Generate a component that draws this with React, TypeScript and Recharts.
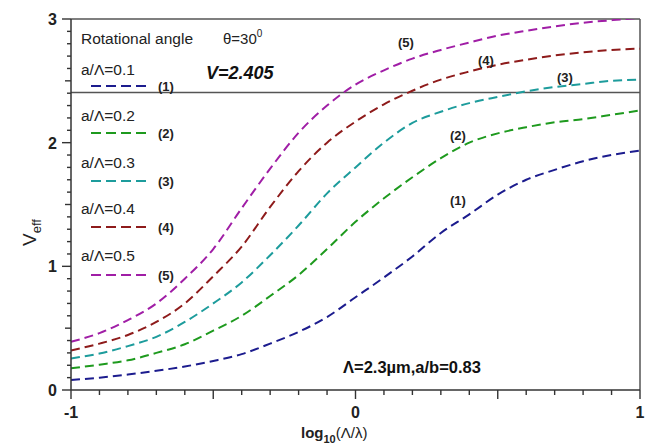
import React from 'react';
import { LineChart, Line, XAxis, YAxis, ReferenceLine } from 'recharts';

const xValues = [-1, -0.9, -0.8, -0.7, -0.6, -0.5, -0.4, -0.3, -0.2, -0.1, 0, 0.1, 0.2, 0.3, 0.4, 0.5, 0.6, 0.7, 0.8, 0.9, 1];
const veff1 = [0.08, 0.1, 0.125, 0.155, 0.19, 0.235, 0.29, 0.375, 0.47, 0.59, 0.75, 0.91, 1.08, 1.27, 1.42, 1.58, 1.7, 1.78, 1.85, 1.9, 1.935];
const veff2 = [0.175, 0.205, 0.24, 0.3, 0.37, 0.48, 0.6, 0.76, 0.93, 1.14, 1.36, 1.55, 1.72, 1.875, 2.0, 2.075, 2.125, 2.165, 2.19, 2.225, 2.26];
const veff3 = [0.255, 0.295, 0.355, 0.43, 0.55, 0.7, 0.87, 1.09, 1.33, 1.59, 1.8, 2.0, 2.16, 2.25, 2.32, 2.37, 2.415, 2.45, 2.475, 2.5, 2.51];
const veff4 = [0.32, 0.375, 0.445, 0.55, 0.7, 0.92, 1.16, 1.48, 1.77, 2.0, 2.17, 2.31, 2.42, 2.51, 2.575, 2.63, 2.67, 2.705, 2.73, 2.75, 2.76];
const veff5 = [0.39, 0.46, 0.565, 0.7, 0.9, 1.14, 1.47, 1.79, 2.08, 2.3, 2.47, 2.585, 2.68, 2.75, 2.81, 2.865, 2.905, 2.94, 2.97, 2.99, 3.01];

const seriesNames = ['(1)', '(2)', '(3)', '(4)', '(5)'];
const legendLabels = ['a/Λ=0.1', 'a/Λ=0.2', 'a/Λ=0.3', 'a/Λ=0.4', 'a/Λ=0.5'];
const colors = ['#1c1c8e', '#1e9a1e', '#1d9c9c', '#8e1b1b', '#a01ea6'];

const xTicks = [-1, -0.9, -0.8, -0.7, -0.6, -0.5, -0.4, -0.3, -0.2, -0.1, 0, 0.1, 0.2, 0.3, 0.4, 0.5, 0.6, 0.7, 0.8, 0.9, 1];
const yTicks = [0, 0.1, 0.2, 0.3, 0.4, 0.5, 0.6, 0.7, 0.8, 0.9, 1, 1.1, 1.2, 1.3, 1.4, 1.5, 1.6, 1.7, 1.8, 1.9, 2, 2.1, 2.2, 2.3, 2.4, 2.5, 2.6, 2.7, 2.8, 2.9, 3];
const cutoffV = 2.405;

const data = xValues.map((x, i) => ({
  x,
  s1: veff1[i],
  s2: veff2[i],
  s3: veff3[i],
  s4: veff4[i],
  s5: veff5[i],
}));

const FONT = '"Liberation Sans", Arial, sans-serif';
const AXIS = '#333';

const isInt = (v: number) => Math.abs(v - Math.round(v)) < 1e-6;
const isHalf = (v: number) => Math.abs(v * 2 - Math.round(v * 2)) < 1e-6;

const XTick = (props: any) => {
  const { x, y, payload } = props;
  const v = payload.value as number;
  const len = isHalf(v) ? 9 : 5;
  return (
    <g>
      <line x1={x} x2={x} y1={y} y2={y + len} stroke={AXIS} strokeWidth={1.4} />
      {isInt(v) && (
        <text x={x} y={y + 28} textAnchor="middle" fontFamily={FONT} fontWeight="bold" fontSize={16} fill="#222">
          {String(Math.round(v))}
        </text>
      )}
    </g>
  );
};

const YTick = (props: any) => {
  const { x, y, payload } = props;
  const v = payload.value as number;
  const len = isInt(v) ? 9 : isHalf(v) ? 6 : 4;
  return (
    <g>
      <line x1={x - len} x2={x} y1={y} y2={y} stroke={AXIS} strokeWidth={1.4} />
      {isInt(v) && (
        <text x={x - 14} y={y + 6} textAnchor="end" fontFamily={FONT} fontWeight="bold" fontSize={16} fill="#222">
          {String(Math.round(v))}
        </text>
      )}
    </g>
  );
};

const legendRows = [
  { labelY: 75, lineY: 86 },
  { labelY: 121, lineY: 133 },
  { labelY: 168, lineY: 181 },
  { labelY: 214, lineY: 227 },
  { labelY: 261, lineY: 275 },
];

const curveLabels = [
  { x: 450, y: 205 },
  { x: 450, y: 140 },
  { x: 557, y: 82 },
  { x: 478, y: 65 },
  { x: 398, y: 47 },
];

export default function App() {
  return (
    <div style={{ position: 'absolute', left: 0, top: 0, width: 648, height: 445, background: '#fff' }}>
      <LineChart width={648} height={445} data={data} margin={{ top: 19, right: 8, bottom: 25, left: 21 }}>
        <XAxis
          dataKey="x"
          type="number"
          domain={[-1, 1]}
          ticks={xTicks}
          interval={0}
          height={30}
          tickSize={0}
          tickMargin={0}
          tickLine={false}
          tick={<XTick />}
          axisLine={{ stroke: AXIS, strokeWidth: 1.5 }}
        />
        <YAxis
          type="number"
          domain={[0, 3]}
          ticks={yTicks}
          interval={0}
          width={50}
          tickSize={0}
          tickMargin={0}
          tickLine={false}
          tick={<YTick />}
          axisLine={{ stroke: AXIS, strokeWidth: 1.5 }}
          allowDataOverflow
        />
        <ReferenceLine y={3} stroke="#555" strokeWidth={1.5} />
        <ReferenceLine x={1} stroke="#555" strokeWidth={1.5} />
        <ReferenceLine y={cutoffV} stroke="#555" strokeWidth={1.5} />
        {['s1', 's2', 's3', 's4', 's5'].map((k, i) => (
          <Line
            key={k}
            dataKey={k}
            type="monotone"
            stroke={colors[i]}
            strokeWidth={2}
            strokeDasharray="9 5"
            dot={false}
            activeDot={false}
            isAnimationActive={false}
          />
        ))}
      </LineChart>
      <svg
        width={648}
        height={445}
        style={{ position: 'absolute', left: 0, top: 0, pointerEvents: 'none' }}
        fontFamily={FONT}
      >
        <text x={81} y={44} fontSize={15.5} fill="#222">Rotational angle</text>
        <text x={223} y={44} fontSize={15} fill="#222">
          θ=30<tspan dy={-7} fontSize={10}>0</tspan>
        </text>
        <text x={206} y={79} fontSize={18} fontWeight="bold" fontStyle="italic" fill="#111">V=2.405</text>
        {legendRows.map((r, i) => (
          <g key={i}>
            <text x={81} y={r.labelY} fontSize={15.5} fill="#222">{legendLabels[i]}</text>
            <line x1={91} x2={149} y1={r.lineY} y2={r.lineY} stroke={colors[i]} strokeWidth={2} strokeDasharray="10 5" />
            <text x={158} y={r.lineY + 5} fontSize={13} fontWeight="bold" fill="#222">{seriesNames[i]}</text>
          </g>
        ))}
        {curveLabels.map((p, i) => (
          <text key={i} x={p.x} y={p.y} fontSize={13} fontWeight="bold" fill="#222">{seriesNames[i]}</text>
        ))}
        <text x={343} y={373} fontSize={16.5} fontWeight="bold" fill="#111">Λ=2.3µm,a/b=0.83</text>
        <text x={0} y={0} transform="translate(36,246) rotate(-90)" fontSize={19} fill="#222">
          V<tspan dy={5} fontSize={13}>eff</tspan>
        </text>
        <text x={301} y={438} fontSize={15} fill="#222">
          <tspan fontWeight="bold">log</tspan>
          <tspan dy={5} fontSize={11} fontWeight="bold">10</tspan>
          <tspan dy={-5}>(Λ/λ)</tspan>
        </text>
      </svg>
    </div>
  );
}
